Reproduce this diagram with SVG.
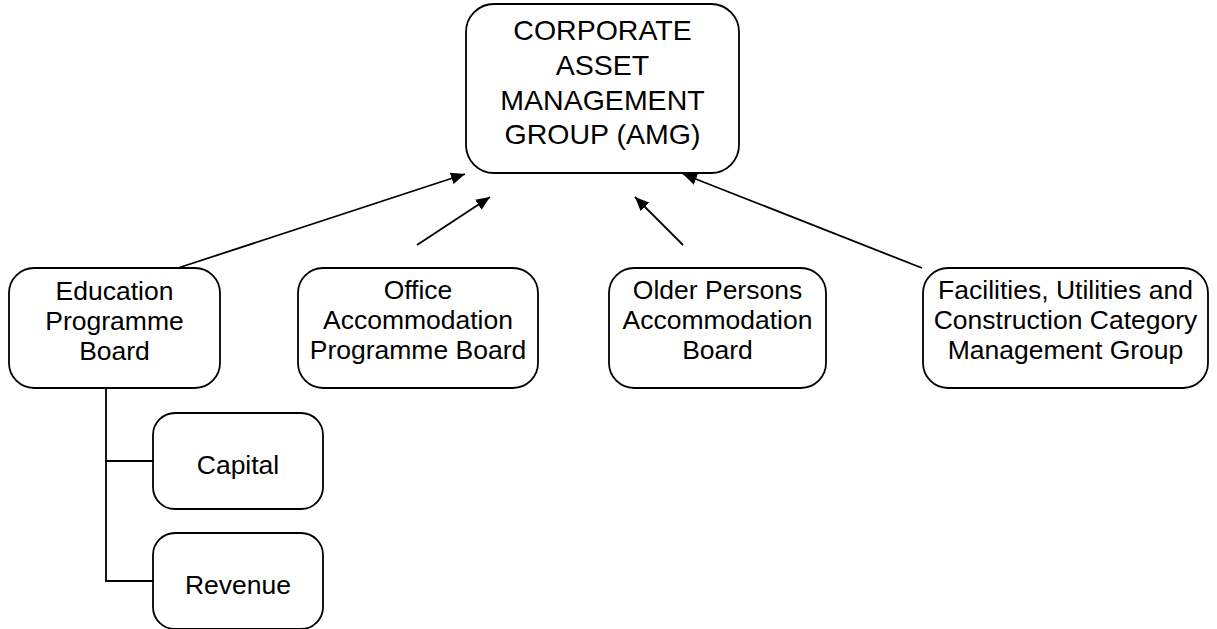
<svg xmlns="http://www.w3.org/2000/svg" width="1217" height="629" viewBox="0 0 1217 629">
<style>
.box{fill:#fff;stroke:#000;stroke-width:1.8}
.t{font-family:"Liberation Sans",Arial,sans-serif;font-size:26.5px;fill:#000;text-anchor:middle}
.big{font-size:28.5px}
.c{fill:none;stroke:#000;stroke-width:1.8}
</style>
<defs>
<marker id="ah" viewBox="0 0 14 12" refX="14" refY="6" markerWidth="14" markerHeight="12" markerUnits="userSpaceOnUse" orient="auto">
<path d="M0,0 L14,6 L0,12 z" fill="#000"/>
</marker>
</defs>
<rect width="1217" height="629" fill="#fff"/>
<g id="connectors">
<line class="c" x1="178" y1="268" x2="465" y2="174" marker-end="url(#ah)"/>
<line class="c" x1="417" y1="245" x2="490" y2="197" marker-end="url(#ah)"/>
<line class="c" x1="683" y1="245" x2="635" y2="197" marker-end="url(#ah)"/>
<line class="c" x1="922" y1="268" x2="683" y2="174" marker-end="url(#ah)"/>
<polyline class="c" points="106,388 106,581 153,581"/>
<line class="c" x1="106" y1="461" x2="153" y2="461"/>
</g>
<g id="amg">
<rect class="box" x="466" y="4" width="273" height="169" rx="28"/>
<text class="t big" x="602.5" y="40">CORPORATE</text>
<text class="t big" x="602.5" y="75">ASSET</text>
<text class="t big" x="602.5" y="110">MANAGEMENT</text>
<text class="t big" x="602.5" y="144">GROUP (AMG)</text>
</g>
<g id="education">
<rect class="box" x="9" y="268" width="211" height="120" rx="25"/>
<text class="t" x="114.5" y="300">Education</text>
<text class="t" x="114.5" y="330">Programme</text>
<text class="t" x="114.5" y="360">Board</text>
</g>
<g id="office">
<rect class="box" x="298" y="268" width="240" height="120" rx="25"/>
<text class="t" x="418" y="299">Office</text>
<text class="t" x="418" y="329">Accommodation</text>
<text class="t" x="418" y="359">Programme Board</text>
</g>
<g id="older">
<rect class="box" x="609" y="268" width="217" height="120" rx="25"/>
<text class="t" x="717.5" y="299">Older Persons</text>
<text class="t" x="717.5" y="329">Accommodation</text>
<text class="t" x="717.5" y="359">Board</text>
</g>
<g id="facilities">
<rect class="box" x="923" y="268" width="285" height="120" rx="25"/>
<text class="t" x="1065.5" y="299">Facilities, Utilities and</text>
<text class="t" x="1065.5" y="329">Construction Category</text>
<text class="t" x="1065.5" y="359">Management Group</text>
</g>
<g id="capital">
<rect class="box" x="153" y="413" width="170" height="96" rx="22"/>
<text class="t" x="238" y="474">Capital</text>
</g>
<g id="revenue">
<rect class="box" x="153" y="533" width="170" height="96" rx="22"/>
<text class="t" x="238" y="594">Revenue</text>
</g>
</svg>
